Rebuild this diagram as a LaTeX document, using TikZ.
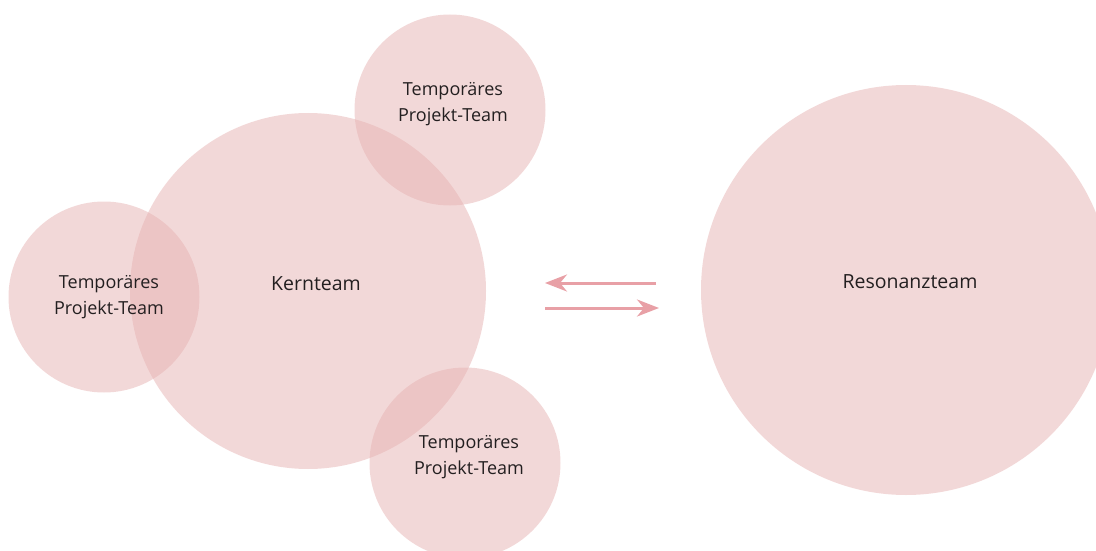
\documentclass[tikz,border=0pt]{standalone}
\usepackage{fontspec}
\setmainfont{Open Sans}
\usetikzlibrary{arrows.meta}
\definecolor{teamfill}{RGB}{230,178,178}
\definecolor{arrowpink}{RGB}{232,160,166}
\definecolor{labeltext}{RGB}{35,31,32}
\tikzset{
  team/.style={circle, fill=teamfill, fill opacity=0.5, inner sep=0pt},
  biglabel/.style={text=labeltext, font=\fontsize{19.5}{26}\selectfont},
  smalllabel/.style={text=labeltext, align=center, font=\fontsize{18}{26}\selectfont},
  flow/.style={draw=arrowpink, line width=3pt,
    -{Stealth[length=22pt,width=17pt,inset=7pt]}}
}
\begin{document}
\begin{tikzpicture}[x=1pt,y=-1pt]
\useasboundingbox (0,0) rectangle (1096,551);
\clip (0,0) rectangle (1096,551);
% core team and the temporary project teams around it
\node[team, minimum size=356pt] (kern) at (308,291) {};
\node[team, minimum size=191pt] (ptop) at (450,110) {};
\node[team, minimum size=191pt] (pleft) at (104,297) {};
\node[team, minimum size=191pt] (pbottom) at (465,463) {};
% resonance team
\node[team, minimum size=410pt] (reso) at (906,290) {};
% labels
\node[biglabel] (kernlbl) at (316,284) {Kernteam};
\node[biglabel] (resolbl) at (910,282) {Resonanzteam};
\node[smalllabel] (ptoplbl) at (453,104) {Temporäres\\Projekt-Team};
\node[smalllabel] (pleftlbl) at (109,297) {Temporäres\\Projekt-Team};
\node[smalllabel] (pbottomlbl) at (469,457) {Temporäres\\Projekt-Team};
% exchange between the two teams
\coordinate (a1s) at (656,283);
\coordinate (a1e) at (545,283);
\coordinate (a2s) at (545,308);
\coordinate (a2e) at (659,308);
\draw[flow] (a1s) -- (a1e);
\draw[flow] (a2s) -- (a2e);
\end{tikzpicture}
\end{document}
